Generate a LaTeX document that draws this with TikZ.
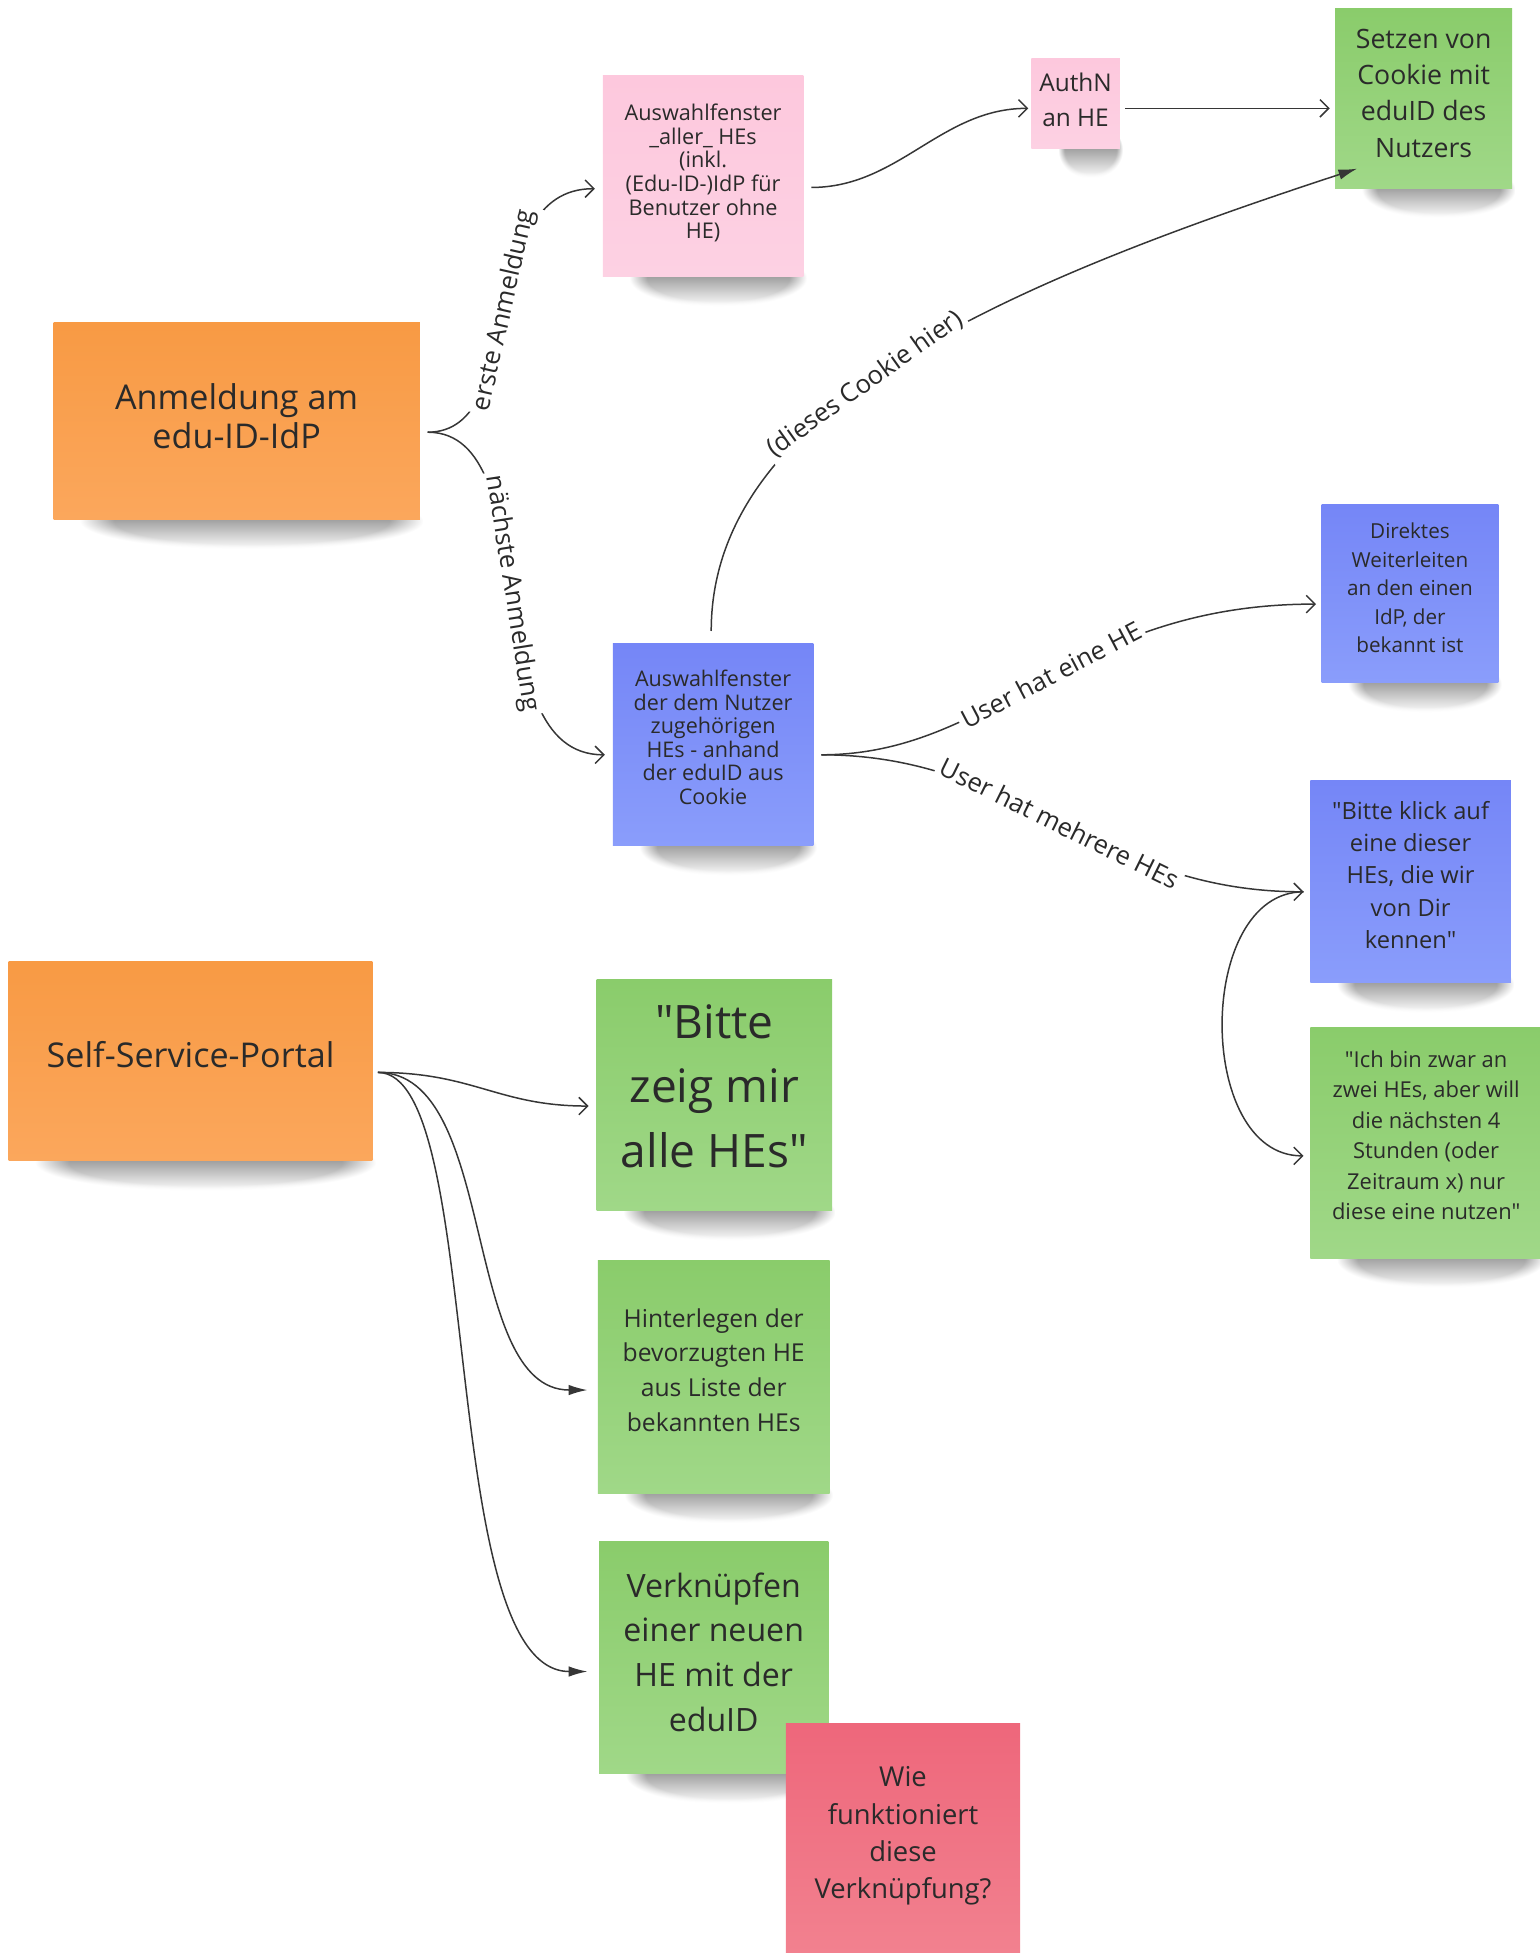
\documentclass[tikz,border=0pt]{standalone}
\usepackage{fontspec}
\setmainfont{Open Sans}[Ligatures=TeXOff]
\usetikzlibrary{arrows.meta,fadings,calc}
\definecolor{txt}{HTML}{2A2A2A}
\definecolor{lin}{HTML}{363636}
\definecolor{orT}{HTML}{F89A44}
\definecolor{orB}{HTML}{FBA75C}
\definecolor{piT}{HTML}{FDC8DD}
\definecolor{piB}{HTML}{FDD1E3}
\definecolor{grT}{HTML}{8ACC6B}
\definecolor{grB}{HTML}{A0D888}
\definecolor{blT}{HTML}{7586F7}
\definecolor{blB}{HTML}{8A9DFB}
\definecolor{rdT}{HTML}{EE677B}
\definecolor{rdB}{HTML}{F2818F}
\pgfdeclarelayer{background}
\pgfsetlayers{background,main}
\newcommand\noteshadow[1]{\shade[top color=black!70, middle color=black!65, bottom color=white, path fading=circle with fuzzy edge 20 percent] ($(#1.south west)+(22,-22)$) rectangle ($(#1.south east)+(2,24)$);}
\newcommand\fs[2]{\fontsize{#1}{#2}\selectfont}
% #1 style, #2 name, #3 x, #4 y, #5 w(pt), #6 h(pt), #7 text raise (px), #8 font, #9 text
\newcommand\stickynote[9]{%
  \node[#1, minimum width=#5pt, minimum height=#6pt] (#2) at (#3,#4) {};
  \node[notetext, font=#8] (#2-t) at (#3,#4-#7) {#9};}
\tikzset{
  note/.style={rectangle, inner sep=0pt},
  notetext/.style={inner sep=0pt, align=center, text=txt},
  orangenote/.style={note, top color=orT, bottom color=orB},
  pinknote/.style={note, top color=piT, bottom color=piB},
  greennote/.style={note, top color=grT, bottom color=grB},
  bluenote/.style={note, top color=blT, bottom color=blB},
  rednote/.style={note, top color=rdT, bottom color=rdB},
  conn/.style={draw=lin, line width=0.6pt},
  openarr/.style={-{Straight Barb[length=3.5pt,width=7pt]}},
  fillarr/.style={-{Latex[length=7.5pt,width=4.2pt]}},
  elabel/.style={font=\fs{10.3}{12}, fill=white, inner sep=1.5pt, sloped, text=txt}
}
\begin{document}
\begin{tikzpicture}[x=0.5pt,y=-0.5pt]
\useasboundingbox (0,0) rectangle (1236,1568);
% notes
\stickynote{orangenote}{anm}{190}{338}{147}{79}{4}{\fs{13.7}{15.5}}{Anmeldung am\\edu-ID-IdP}
\stickynote{pinknote}{allHE}{564.5}{141.5}{80.5}{80.5}{2.5}{\fs{8.7}{9.5}}{Auswahlfenster\\\_aller\_ HEs\\(inkl.\\(Edu-ID-)IdP für\\Benutzer ohne\\HE)}
\stickynote{pinknote}{authn}{863.5}{83}{35.5}{36}{3}{\fs{9.8}{14}}{AuthN\\an HE}
\stickynote{greennote}{setzen}{1143}{79}{71}{72}{4}{\fs{10.7}{14.5}}{Setzen von\\Cookie mit\\eduID des\\Nutzers}
\stickynote{bluenote}{cookieHE}{572.5}{598}{80.5}{81}{6}{\fs{8.65}{9.5}}{Auswahlfenster\\der dem Nutzer\\zugehörigen\\HEs - anhand\\der eduID aus\\Cookie}
\stickynote{bluenote}{direkt}{1132}{476.5}{71}{71.5}{4.5}{\fs{8.3}{11.5}}{Direktes\\Weiterleiten\\an den einen\\IdP, der\\bekannt ist}
\stickynote{bluenote}{klick}{1132.5}{708}{80.5}{81}{5.5}{\fs{9.5}{13}}{"Bitte klick auf\\eine dieser\\HEs, die wir\\von Dir\\kennen"}
\stickynote{greennote}{ich}{1145}{917.5}{93}{92.5}{6}{\fs{8.8}{12.2}}{"Ich bin zwar an\\zwei HEs, aber will\\die nächsten 4\\Stunden (oder\\Zeitraum x) nur\\diese eine nutzen"}
\stickynote{orangenote}{ssp}{153}{852}{146}{80}{5}{\fs{13.7}{15.5}}{Self-Service-Portal}
\stickynote{greennote}{zeig}{573.5}{879}{94.5}{93}{7}{\fs{18.5}{26}}{"Bitte\\zeig mir\\alle HEs"}
\stickynote{greennote}{hint}{573}{1105.5}{93}{93.5}{5.5}{\fs{9.9}{14}}{Hinterlegen der\\bevorzugten HE\\aus Liste der\\bekannten HEs}
\stickynote{greennote}{verk}{573}{1331}{92}{93}{4.5}{\fs{12.9}{18}}{Verknüpfen\\einer neuen\\HE mit der\\eduID}
\stickynote{rednote}{wie}{725}{1476}{94}{92}{2}{\fs{11}{15}}{Wie\\funktioniert\\diese\\Verknüpfung?}
% shadows
\begin{pgfonlayer}{background}
\foreach \n in {anm,allHE,authn,setzen,cookieHE,direkt,klick,ich,ssp,zeig,hint,verk}{\noteshadow{\n}}
\end{pgfonlayer}
% connectors
\draw[conn, openarr] ([shift={(6,9)}]anm.east) .. controls +(83,0) and +(-97,0) .. ([shift={(-6,10)}]allHE.west) node[elabel, pos=0.5] {erste Anmeldung};
\draw[conn, openarr] ([shift={(6,9)}]anm.east) .. controls +(97,0) and +(-106,0) .. ([shift={(-6,8)}]cookieHE.west) node[elabel, pos=0.5] {nächste Anmeldung};
\draw[conn, openarr] ([shift={(6,9)}]allHE.east) .. controls +(70,0) and +(-70,0) .. ([shift={(-2,4)}]authn.west);
\draw[conn, openarr] ([shift={(4,4)}]authn.east) -- ([shift={(-4,8)}]setzen.west);
\draw[conn, fillarr] ([shift={(-1.5,-10)}]cookieHE.north) .. controls +(0,-177) and +(-290,95) .. ([shift={(18,-16)}]setzen.south west) node[elabel, pos=0.45] {(dieses Cookie hier)};
\draw[conn, openarr] ([shift={(6,8)}]cookieHE.east) .. controls +(141,0) and +(-197,0) .. ([shift={(-4,8.5)}]direkt.west) node[elabel, pos=0.52] {User hat eine HE};
\draw[conn, openarr] ([shift={(6,8)}]cookieHE.east) .. controls +(161,0) and +(-167,0) .. ([shift={(-5,8)}]klick.west) node[elabel, pos=0.5] {User hat mehrere HEs};
\draw[conn, openarr] ([shift={(-5,8)}]klick.west) .. controls +(-87,0) and +(-87,0) .. ([shift={(-5,10.5)}]ich.west);
\draw[conn, openarr] ([shift={(4,9)}]ssp.east) .. controls +(77,0) and +(-73,0) .. ([shift={(-6,9)}]zeig.west);
\draw[conn, fillarr] ([shift={(4,9)}]ssp.east) .. controls +(97,0) and +(-102,0) .. ([shift={(-8,10.5)}]hint.west);
\draw[conn, fillarr] ([shift={(4,9)}]ssp.east) .. controls +(87,0) and +(-122,0) .. ([shift={(-9,11)}]verk.west);
\end{tikzpicture}
\end{document}
